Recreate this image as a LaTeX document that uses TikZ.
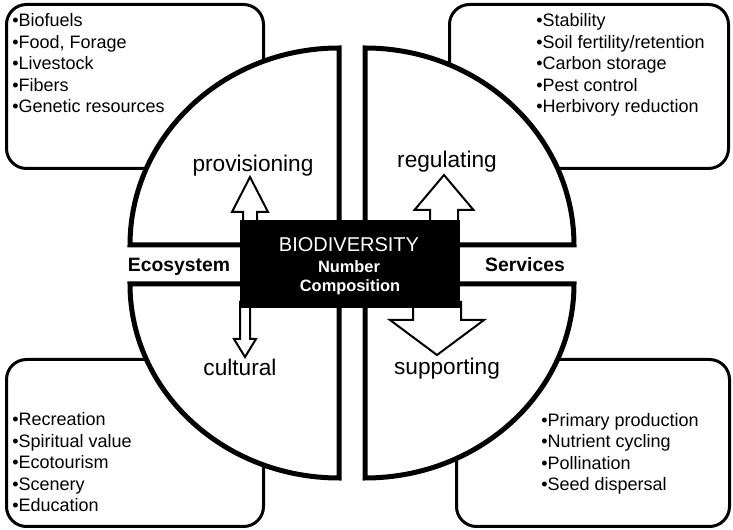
\documentclass[tikz,border=0pt]{standalone}
\usepackage{fontspec}
\setmainfont{Liberation Sans}
\tikzset{
  listbox/.style={draw, line width=2.25pt, rounded corners=15pt, fill=white},
  quadrant/.style={draw, line width=3.75pt, fill=white, line join=miter},
  blockarrow/.style={draw, line width=1.5pt, fill=white, line join=miter},
  biobox/.style={fill=black, minimum width=165pt, minimum height=66pt, inner sep=0pt},
  listtext/.style={align=left, anchor=base west, inner sep=0pt, font=\fontsize{13.5}{16.2}\selectfont},
  svclabel/.style={anchor=base, inner sep=0pt, font=\fontsize{17}{20}\selectfont},
  sidelabel/.style={anchor=base, inner sep=0pt, font=\bfseries\fontsize{14.5}{17}\selectfont},
  biotitle/.style={anchor=base, inner sep=0pt, text=white, font=\fontsize{15}{17}\selectfont},
  biosub/.style={anchor=base, inner sep=0pt, text=white, font=\bfseries\fontsize{12.3}{14}\selectfont},
}
% block arrow: x, start y, head y, tip y, shaft half width, head half width
\newcommand{\blockarrow}[6]{%
  \draw[blockarrow] (#1-#5,#2) -- (#1-#5,#3) -- (#1-#6,#3) -- (#1,#4)
    -- (#1+#6,#3) -- (#1+#5,#3) -- (#1+#5,#2) -- cycle;}

\begin{document}
\begin{tikzpicture}[x=0.75pt, y=-0.75pt]
  \useasboundingbox (0,0) rectangle (733,530);
  \fill[white] (0,0) rectangle (733,530);
  % service boxes (lists anchored at the baseline of their last line)
  \draw[listbox] (6.5,4.5) rectangle (263.5,168.5);
  \draw[listbox] (449.5,4.5) rectangle (728.5,168.5);
  \draw[listbox] (6.5,359.5) rectangle (263.5,526.5);
  \draw[listbox] (456.5,359.5) rectangle (729.5,526.5);
  \node[listtext] (provlist) at (12,113) {•Biofuels\\•Food, Forage\\•Livestock\\•Fibers\\•Genetic resources};
  \node[listtext] (reglist) at (536,113) {•Stability\\•Soil fertility/retention\\•Carbon storage\\•Pest control\\•Herbivory reduction};
  \node[listtext] (cultlist) at (12,512) {•Recreation\\•Spiritual value\\•Ecotourism\\•Scenery\\•Education};
  \node[listtext] (supplist) at (541,491) {•Primary production\\•Nutrient cycling\\•Pollination\\•Seed dispersal};
  % four quadrants
  \draw[quadrant] (339,245) -- (339,48) arc[start angle=270, end angle=180, x radius=209, y radius=197] -- cycle;
  \draw[quadrant] (365,245) -- (365,48) arc[start angle=270, end angle=360, x radius=209, y radius=197] -- cycle;
  \draw[quadrant] (339,284) -- (130,284) arc[start angle=180, end angle=90, x radius=209, y radius=194] -- cycle;
  \draw[quadrant] (365,284) -- (574,284) arc[start angle=0, end angle=90, x radius=209, y radius=194] -- cycle;
  \node[svclabel] (prov) at (253,172) {provisioning};
  \node[svclabel] (reg) at (447,168) {regulating};
  \node[svclabel] (cult) at (240,376) {cultural};
  \node[svclabel] (supp) at (447,375) {supporting};
  \node[sidelabel] (eco) at (179,272) {Ecosystem};
  \node[sidelabel] (serv) at (525,272) {Services};
  % arrows out of the centre
  \blockarrow{250}{226}{212}{177}{7}{18}
  \blockarrow{444}{226}{210}{175}{14}{29.5}
  \blockarrow{245}{302}{339}{357}{5}{11}
  \blockarrow{437}{302}{320}{355}{24}{47}
  \node[biobox] (bio) at (350,264) {};
  \node[biotitle] (biot) at (349,252) {BIODIVERSITY};
  \node[biosub] (bionum) at (349,273) {Number};
  \node[biosub] (biocomp) at (350,292) {Composition};
\end{tikzpicture}
\end{document}
